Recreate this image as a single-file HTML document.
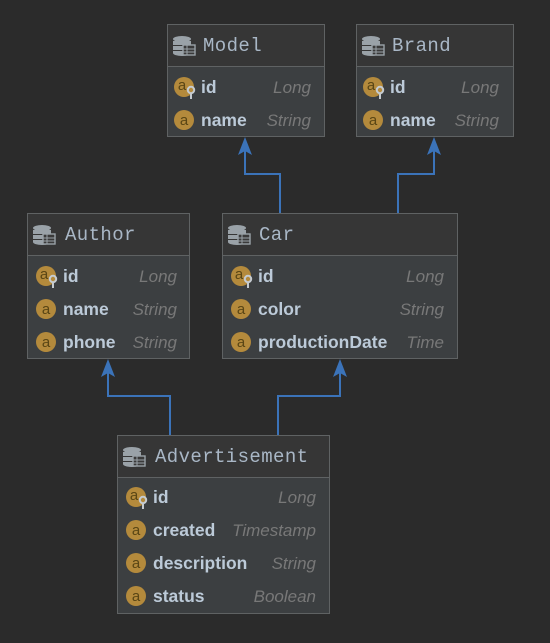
<!DOCTYPE html>
<html><head><style>
html,body{margin:0;padding:0;background:#2b2b2b;}
svg{display:block}
.t{font-family:"Liberation Mono",monospace;font-size:19px;letter-spacing:0.4px;fill:#a9b7c6}
.f{font-family:"Liberation Sans",sans-serif;font-weight:bold;font-size:17.5px;fill:#bccad8}
.y{font-family:"Liberation Sans",sans-serif;font-style:italic;font-size:17px;fill:#787878;text-anchor:end}
.ic{font-family:"Liberation Sans",sans-serif;font-size:15px;fill:#5a4615;text-anchor:middle}
</style></head><body>
<svg width="550" height="643" viewBox="0 0 550 643" xmlns="http://www.w3.org/2000/svg">
<defs>
<g id="db">
<ellipse cx="0" cy="-6" rx="9" ry="3" fill="#9aa2a8"/>
<rect x="-9" y="-4" width="18" height="4" fill="#9aa2a8"/>
<rect x="-9" y="1" width="18" height="4" fill="#9aa2a8"/>
<path d="M-9 6 h18 v2 a9 3 0 0 1 -18 0z" fill="#9aa2a8"/>
<rect x="1" y="0" width="12" height="10" fill="#3a3a3a" stroke="#9aa2a8" stroke-width="1.4"/>
<line x1="1" y1="4" x2="13" y2="4" stroke="#9aa2a8"/><line x1="1" y1="7" x2="13" y2="7" stroke="#9aa2a8"/>
<line x1="5" y1="0" x2="5" y2="10" stroke="#9aa2a8"/>
</g>
<g id="a"><circle r="10" fill="#b48a3c"/><text class="ic" y="5">a</text></g>
<g id="k"><circle r="10" fill="#b48a3c"/><text class="ic" x="-2" y="3">a</text>
<circle cx="7" cy="3" r="3.2" fill="none" stroke="#c5cbd0" stroke-width="2"/><line x1="7" y1="6" x2="7" y2="12" stroke="#c5cbd0" stroke-width="2"/></g>
<path id="ar" d="M0 0 L-7 18 L0 14 L7 18Z" fill="#3b73b9"/>
</defs>

<g stroke="#3b73b9" stroke-width="2" fill="none">
<polyline points="280,213 280,174 245,174 245,150"/>
<polyline points="398,213 398,174 434,174 434,150"/>
<polyline points="170,435 170,396 108,396 108,372"/>
<polyline points="278,435 278,396 340,396 340,372"/>
</g>
<use href="#ar" x="245" y="137"/><use href="#ar" x="434" y="137"/>
<use href="#ar" x="108" y="359"/><use href="#ar" x="340" y="359"/>

<g>
<rect x="167.5" y="24.5" width="157" height="112" fill="#3c3f41" stroke="#5f6263"/>
<rect x="168" y="25" width="156" height="41" fill="#363636"/>
<line x1="168" y1="66.5" x2="324" y2="66.5" stroke="#5f6263"/>
<use href="#db" x="182" y="45"/><text class="t" x="203" y="51">Model</text>
<use href="#k" x="184" y="87"/><text class="f" x="201" y="93">id</text><text class="y" x="311" y="93">Long</text>
<use href="#a" x="184" y="120"/><text class="f" x="201" y="126">name</text><text class="y" x="311" y="126">String</text>
</g>
<g>
<rect x="356.5" y="24.5" width="157" height="112" fill="#3c3f41" stroke="#5f6263"/>
<rect x="357" y="25" width="156" height="41" fill="#363636"/>
<line x1="357" y1="66.5" x2="513" y2="66.5" stroke="#5f6263"/>
<use href="#db" x="371" y="45"/><text class="t" x="392" y="51">Brand</text>
<use href="#k" x="373" y="87"/><text class="f" x="390" y="93">id</text><text class="y" x="499" y="93">Long</text>
<use href="#a" x="373" y="120"/><text class="f" x="390" y="126">name</text><text class="y" x="499" y="126">String</text>
</g>
<g>
<rect x="27.5" y="213.5" width="162" height="145" fill="#3c3f41" stroke="#5f6263"/>
<rect x="28" y="214" width="161" height="41" fill="#363636"/>
<line x1="28" y1="255.5" x2="189" y2="255.5" stroke="#5f6263"/>
<use href="#db" x="42" y="234"/><text class="t" x="65" y="240">Author</text>
<use href="#k" x="46" y="276"/><text class="f" x="63" y="282">id</text><text class="y" x="177" y="282">Long</text>
<use href="#a" x="46" y="309"/><text class="f" x="63" y="315">name</text><text class="y" x="177" y="315">String</text>
<use href="#a" x="46" y="342"/><text class="f" x="63" y="348">phone</text><text class="y" x="177" y="348">String</text>
</g>
<g>
<rect x="222.5" y="213.5" width="235" height="145" fill="#3c3f41" stroke="#5f6263"/>
<rect x="223" y="214" width="234" height="41" fill="#363636"/>
<line x1="223" y1="255.5" x2="457" y2="255.5" stroke="#5f6263"/>
<use href="#db" x="237" y="234"/><text class="t" x="259" y="240">Car</text>
<use href="#k" x="241" y="276"/><text class="f" x="258" y="282">id</text><text class="y" x="444" y="282">Long</text>
<use href="#a" x="241" y="309"/><text class="f" x="258" y="315">color</text><text class="y" x="444" y="315">String</text>
<use href="#a" x="241" y="342"/><text class="f" x="258" y="348">productionDate</text><text class="y" x="444" y="348">Time</text>
</g>
<g>
<rect x="117.5" y="435.5" width="212" height="178" fill="#3c3f41" stroke="#5f6263"/>
<rect x="118" y="436" width="211" height="41" fill="#363636"/>
<line x1="118" y1="477.5" x2="329" y2="477.5" stroke="#5f6263"/>
<use href="#db" x="132" y="456"/><text class="t" x="155" y="462">Advertisement</text>
<use href="#k" x="136" y="497"/><text class="f" x="153" y="503">id</text><text class="y" x="316" y="503">Long</text>
<use href="#a" x="136" y="530"/><text class="f" x="153" y="536">created</text><text class="y" x="316" y="536">Timestamp</text>
<use href="#a" x="136" y="563"/><text class="f" x="153" y="569">description</text><text class="y" x="316" y="569">String</text>
<use href="#a" x="136" y="596"/><text class="f" x="153" y="602">status</text><text class="y" x="316" y="602">Boolean</text>
</g>
</svg>
</body></html>
